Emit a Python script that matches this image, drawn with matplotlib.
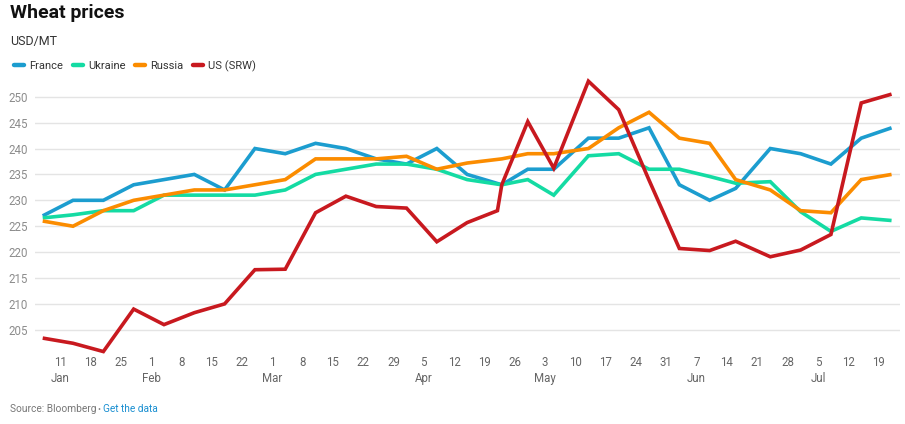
import numpy as np
import pandas as pd
import matplotlib
matplotlib.use("Agg")
import matplotlib.pyplot as plt
from matplotlib.lines import Line2D

# Weekly price points (USD/MT), 2021
dates = pd.to_datetime([
    "2021-01-07", "2021-01-14", "2021-01-21", "2021-01-28",
    "2021-02-04", "2021-02-11", "2021-02-18", "2021-02-25",
    "2021-03-04", "2021-03-11", "2021-03-18", "2021-03-25",
    "2021-04-01", "2021-04-08", "2021-04-15", "2021-04-22",
    "2021-04-23", "2021-04-29", "2021-05-05", "2021-05-13",
    "2021-05-20", "2021-05-27", "2021-06-03", "2021-06-10",
    "2021-06-16", "2021-06-24", "2021-07-01", "2021-07-08",
    "2021-07-15", "2021-07-22",
])

france = [227, 230, 230, 233, 234, 235, 232, 240, 239, 241, 240, 238, 237, 240, 235,
          None, 233, 236, 236, 242, 242, 244, 233, 230, 232.3, 240, 239, 237, 242, 244]
ukraine = [226.6, 227.2, 228, 228, 231, 231, 231, 231, 232, 235, 236, 237, 237, 236, 234,
           None, 233, 234, 231, 238.6, 239, 236, 236, 234.6, 233.3, 233.6, 227.8, 224, 226.6, 226.1]
russia = [226, 225, 228, 230, 231, 232, 232, 233, 234, 238, 238, 238, 238.5, 236, 237.2,
          None, 238, 239, 239, 240, 244, 247, 242, 241, 234, 232, 228, 227.6, 234, 235]
us_srw = [203.4, 202.4, 200.8, 209, 206, 208.3, 210, 216.6, 216.7, 227.6, 230.8, 228.8, 228.5, 222, 225.7,
          228, 233, 245.2, 236.2, 253, 247.5, 233.9, 220.7, 220.3, 222.1, 219.1, 220.4, 223.4, 248.8, 250.5]

series_names = ["France", "Ukraine", "Russia", "US (SRW)"]
series_values = [france, ukraine, russia, us_srw]
colors = ["#1c9dcf", "#14dba3", "#fb8c00", "#c8191f"]

y_ticks = [205, 210, 215, 220, 225, 230, 235, 240, 245, 250]

plt.rcParams["font.family"] = ["Roboto", "DejaVu Sans"]

fig = plt.figure(figsize=(9.05, 4.24), dpi=100)
W, H = 905, 424

# axes placed in pixel terms
left_px, right_px = 35, 900
top_px, bottom_px = 78.6, 355.7
ax = fig.add_axes([left_px / W, 1 - bottom_px / H,
                   (right_px - left_px) / W, (bottom_px - top_px) / H])

for name, vals, c in zip(series_names, series_values, colors):
    v = np.array(vals, dtype=float)
    m = ~np.isnan(v)
    ax.plot(dates[m], v[m], color=c, lw=2.6, solid_joinstyle="miter",
            solid_capstyle="butt", clip_on=False, zorder=3)

ax.set_ylim(200, 253.5)
ax.set_xlim(dates[0] - pd.Timedelta(days=1.78), dates[-1] + pd.Timedelta(days=1.95))

ax.set_yticks(y_ticks)
ax.set_yticklabels([str(t) for t in y_ticks])
ax.yaxis.grid(True, color="#e4e4e4", lw=1)
ax.set_axisbelow(True)

ticks = pd.date_range("2021-01-11", "2021-07-19", freq="7D")
labels = []
prev_month = None
for t in ticks:
    if t.month != prev_month:
        labels.append(f"{t.day}\n{t.strftime('%b')}")
        prev_month = t.month
    else:
        labels.append(f"{t.day}")
ax.set_xticks(ticks)
ax.set_xticklabels(labels, linespacing=1.3, va="top")

ax.tick_params(axis="y", length=0, pad=5, labelsize=8.3, labelcolor="#8c8c8c")
ax.tick_params(axis="x", length=0, pad=0, labelsize=8.3, labelcolor="#666666")
for s in ax.spines.values():
    s.set_visible(False)

# header
fig.text(10 / W, 1 - 18 / H, "Wheat prices", fontsize=14, fontweight="bold",
         color="#111111", va="baseline")
fig.text(10 / W, 1 - 45 / H, "USD/MT", fontsize=9, color="#333333", va="baseline")

# legend
leg_x = [12, 71, 133, 191]
for x0, name, c in zip(leg_x, series_names, colors):
    fig.add_artist(Line2D([(x0 + 1.5) / W, (x0 + 11.5) / W], [1 - 65 / H, 1 - 65 / H],
                          color=c, lw=3.2, solid_capstyle="round"))
    fig.text((x0 + 17) / W, 1 - 69 / H, name, fontsize=8, color="#333333", va="baseline")

# source line
fig.text(10 / W, 1 - 412 / H, "Source: Bloomberg", fontsize=7.3,
         color="#777777", va="baseline")
fig.text(98.5 / W, 1 - 409 / H, "\u2022", fontsize=6.5, color="#888888",
         ha="center", va="center")
fig.text(103 / W, 1 - 412 / H, "Get the data", fontsize=7.3,
         color="#1a8fd1", va="baseline")

fig.savefig("out.png", dpi=100)
